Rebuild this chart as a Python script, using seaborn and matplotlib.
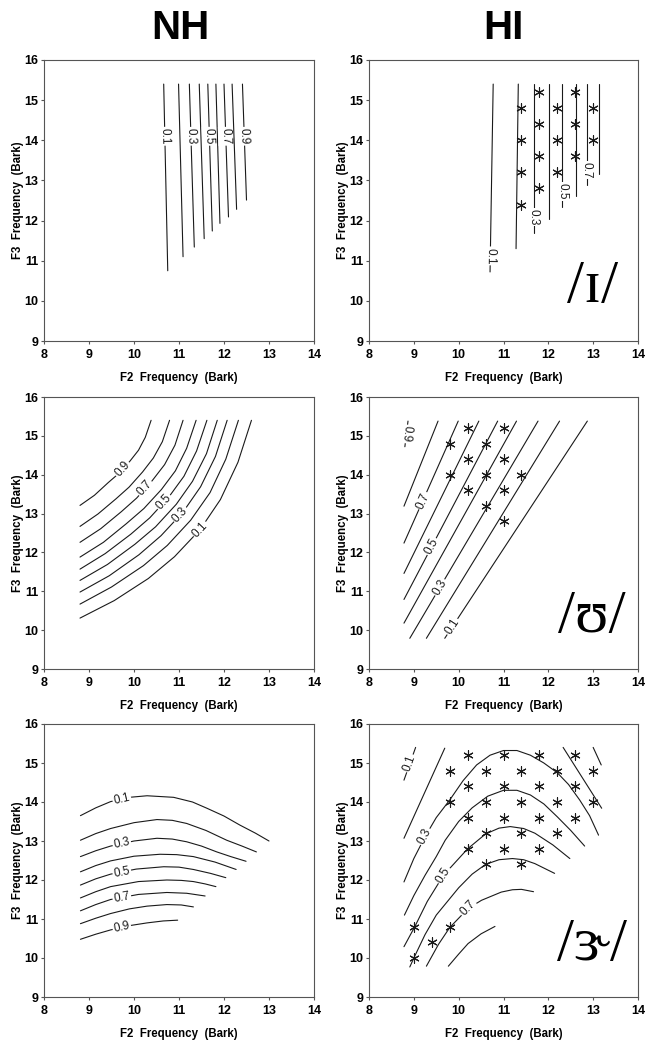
import numpy as np
import pandas as pd
import matplotlib
matplotlib.use("Agg")
import matplotlib.pyplot as plt
import seaborn as sns

# ---------------- data (F2 / F3 in Bark) ----------------
# NH /ɪ/ : iso-probability lines, top -> bottom
nh_i_levels = [0.1, 0.2, 0.3, 0.4, 0.5, 0.6, 0.7, 0.8, 0.9]
nh_i_f2 = [[10.66, 10.75], [10.99, 11.09], [11.23, 11.34], [11.45, 11.56], [11.64, 11.74],
           [11.82, 11.91], [12.00, 12.10], [12.18, 12.28], [12.41, 12.50]]
nh_i_f3 = [[15.4, 10.75], [15.4, 11.10], [15.4, 11.34], [15.4, 11.55], [15.4, 11.74],
           [15.4, 11.93], [15.4, 12.09], [15.4, 12.28], [15.4, 12.51]]
nh_i_labels = [(0.1, 10.68, 14.1), (0.3, 11.26, 14.1), (0.5, 11.67, 14.1),
               (0.7, 12.03, 14.1), (0.9, 12.44, 14.1)]

# HI /ɪ/
hi_i_levels = [0.1, 0.2, 0.3, 0.4, 0.5, 0.6, 0.7, 0.8]
hi_i_f2 = [[10.77, 10.70], [11.33, 11.28], [11.68, 11.68], [12.02, 12.02],
           [12.31, 12.31], [12.61, 12.61], [12.86, 12.86], [13.13, 13.13]]
hi_i_f3 = [[15.4, 10.72], [15.4, 11.30], [15.4, 11.68], [15.4, 12.05],
           [15.4, 12.34], [15.4, 12.61], [15.4, 12.88], [15.4, 13.17]]
hi_i_labels = [(0.1, 10.71, 11.12), (0.3, 11.68, 12.09), (0.5, 12.31, 12.72), (0.7, 12.86, 13.26)]
hi_i_star_f2 = [11.4, 11.4, 11.4, 11.4, 11.8, 11.8, 11.8, 11.8, 12.2, 12.2, 12.2,
                12.6, 12.6, 12.6, 13.0, 13.0]
hi_i_star_f3 = [14.8, 14.0, 13.2, 12.4, 15.2, 14.4, 13.6, 12.8, 14.8, 14.0, 13.2,
                15.2, 14.4, 13.6, 14.8, 14.0]

# NH /ʊ/
nh_u_levels = [0.1, 0.2, 0.3, 0.4, 0.5, 0.6, 0.7, 0.8, 0.9]
nh_u_f2 = [[8.8, 9.56, 10.32, 10.90, 11.47, 11.92, 12.31, 12.61],
           [8.8, 9.50, 10.21, 10.74, 11.26, 11.69, 12.04, 12.32],
           [8.8, 9.45, 10.11, 10.60, 11.09, 11.48, 11.81, 12.07],
           [8.8, 9.41, 10.02, 10.48, 10.94, 11.30, 11.61, 11.85],
           [8.8, 9.36, 9.93, 10.35, 10.77, 11.11, 11.39, 11.62],
           [8.8, 9.32, 9.83, 10.22, 10.61, 10.92, 11.17, 11.38],
           [8.8, 9.26, 9.72, 10.06, 10.40, 10.68, 10.91, 11.09],
           [8.8, 9.20, 9.60, 9.89, 10.19, 10.43, 10.63, 10.79],
           [8.8, 9.12, 9.43, 9.67, 9.91, 10.10, 10.25, 10.38]]
nh_u_f3 = [[10.31, 10.76, 11.33, 11.89, 12.59, 13.36, 14.32, 15.4],
           [10.67, 11.11, 11.66, 12.18, 12.83, 13.54, 14.40, 15.4],
           [10.98, 11.40, 11.94, 12.43, 13.04, 13.69, 14.47, 15.4],
           [11.28, 11.69, 12.21, 12.66, 13.24, 13.83, 14.54, 15.4],
           [11.57, 11.97, 12.47, 12.89, 13.42, 13.96, 14.61, 15.4],
           [11.88, 12.26, 12.74, 13.13, 13.62, 14.10, 14.68, 15.4],
           [12.26, 12.61, 13.05, 13.40, 13.84, 14.26, 14.76, 15.4],
           [12.67, 12.99, 13.38, 13.68, 14.07, 14.43, 14.85, 15.4],
           [13.21, 13.47, 13.80, 14.04, 14.35, 14.63, 14.96, 15.4]]
nh_u_labels = [(0.9, 9.75, 14.14), (0.7, 10.25, 13.65), (0.5, 10.67, 13.29),
               (0.3, 11.03, 12.97), (0.1, 11.47, 12.59)]

# HI /ʊ/
hi_u_levels = [0.9, 0.8, 0.7, 0.6, 0.5, 0.4, 0.3, 0.2, 0.1]
hi_u_f2 = [[8.87, 8.80], [8.78, 9.54], [8.78, 9.99], [8.78, 10.45], [8.78, 10.87],
           [8.78, 11.29], [8.91, 11.77], [9.28, 12.25], [9.69, 12.87]]
hi_u_f3 = [[15.38, 14.72], [13.19, 15.38], [12.24, 15.38], [11.46, 15.38], [10.79, 15.38],
           [10.18, 15.38], [9.79, 15.38], [9.79, 15.38], [9.79, 15.38]]
hi_u_labels = [(0.9, 8.83, 15.05), (0.7, 9.20, 13.33), (0.5, 9.40, 12.15),
               (0.3, 9.58, 11.10), (0.1, 9.86, 10.09)]
hi_u_star_f2 = [10.2, 11.0, 9.8, 10.6, 10.2, 11.0, 9.8, 10.6, 11.4, 10.2, 11.0, 10.6, 11.0]
hi_u_star_f3 = [15.2, 15.2, 14.8, 14.8, 14.4, 14.4, 14.0, 14.0, 14.0, 13.6, 13.6, 13.2, 12.8]

# NH /ɝ/
nh_r_levels = [0.1, 0.2, 0.3, 0.4, 0.5, 0.6, 0.7, 0.8, 0.9]
nh_r_f2 = [[8.81, 9.15, 9.48, 9.9, 10.29, 10.88, 11.3, 11.62, 12.0, 12.35, 12.7, 13.00],
           [8.81, 9.15, 9.48, 10.0, 10.51, 10.85, 11.17, 11.6, 12.06, 12.4, 12.72],
           [8.81, 9.15, 9.48, 10.0, 10.51, 10.85, 11.17, 11.5, 11.84, 12.15, 12.49],
           [8.81, 9.15, 9.48, 10.0, 10.58, 10.95, 11.32, 11.8, 12.27],
           [8.81, 9.15, 9.48, 10.05, 10.66, 11.0, 11.32, 11.7, 12.04],
           [8.81, 9.15, 9.48, 10.1, 10.73, 11.05, 11.32, 11.58, 11.82],
           [8.81, 9.15, 9.48, 10.1, 10.73, 11.17, 11.58],
           [8.81, 9.15, 9.48, 9.9, 10.29, 10.73, 11.05, 11.32],
           [8.81, 9.15, 9.48, 9.9, 10.29, 10.65, 10.97]]
nh_r_f3 = [[13.65, 13.85, 14.01, 14.12, 14.16, 14.12, 14.0, 13.84, 13.64, 13.41, 13.2, 13.00],
           [13.02, 13.19, 13.32, 13.47, 13.55, 13.53, 13.45, 13.27, 13.02, 12.87, 12.72],
           [12.60, 12.75, 12.87, 13.0, 13.07, 13.05, 12.98, 12.87, 12.72, 12.60, 12.48],
           [12.21, 12.37, 12.49, 12.61, 12.66, 12.65, 12.60, 12.46, 12.27],
           [11.87, 12.03, 12.15, 12.28, 12.34, 12.33, 12.27, 12.17, 12.06],
           [11.54, 11.70, 11.83, 11.96, 12.00, 11.99, 11.96, 11.90, 11.83],
           [11.21, 11.37, 11.50, 11.63, 11.68, 11.66, 11.59],
           [10.88, 11.02, 11.14, 11.26, 11.33, 11.37, 11.36, 11.31],
           [10.48, 10.61, 10.72, 10.83, 10.90, 10.95, 10.97]]
nh_r_labels = [(0.1, 9.73, 14.07), (0.3, 9.73, 12.93), (0.5, 9.73, 12.20),
               (0.7, 9.73, 11.55), (0.9, 9.73, 10.78)]

# HI /ɝ/
hi_r_levels = [0.1, 0.1, 0.2, 0.2, 0.3, 0.4, 0.5, 0.6, 0.7, 0.8]
hi_r_f2 = [[8.78, 9.04], [13.00, 13.18], [8.78, 9.69], [12.33, 13.19],
           [8.78, 9.0, 9.25, 9.5, 9.8, 10.1, 10.4, 10.7, 11.0, 11.3, 11.6, 11.9, 12.2, 12.45, 12.7, 12.92, 13.12],
           [8.79, 9.0, 9.25, 9.5, 9.7, 10.0, 10.3, 10.65, 11.0, 11.3, 11.6, 11.9, 12.2, 12.5, 12.81],
           [8.78, 9.02, 9.3, 9.66, 10.2, 10.6, 10.9, 11.15, 11.45, 11.7, 12.1, 12.48],
           [8.91, 9.0, 9.25, 9.5, 10.0, 10.3, 10.6, 10.9, 11.2, 11.45, 11.7, 12.14],
           [9.28, 9.55, 9.8, 10.21, 10.51, 10.95, 11.2, 11.4, 11.67],
           [9.77, 10.0, 10.21, 10.5, 10.81]]
hi_r_f3 = [[14.56, 15.4], [15.4, 14.95], [13.07, 15.38], [15.4, 13.84],
           [11.95, 12.55, 13.11, 13.6, 14.05, 14.55, 14.95, 15.2, 15.32, 15.32, 15.2, 15.0, 14.75, 14.45, 14.05, 13.65, 13.15],
           [11.10, 11.6, 12.12, 12.6, 13.02, 13.5, 13.85, 14.15, 14.3, 14.3, 14.18, 13.95, 13.62, 13.27, 12.87],
           [10.29, 10.8, 11.45, 12.12, 12.8, 13.18, 13.33, 13.37, 13.32, 13.2, 12.9, 12.55],
           [9.77, 10.0, 10.6, 11.1, 11.8, 12.15, 12.4, 12.52, 12.55, 12.52, 12.42, 12.17],
           [9.79, 10.35, 10.78, 11.27, 11.48, 11.69, 11.75, 11.76, 11.70],
           [9.79, 10.1, 10.37, 10.62, 10.81]]
hi_r_labels = [(0.1, 8.91, 14.99), (0.3, 9.25, 13.11), (0.5, 9.66, 12.12), (0.7, 10.21, 11.27)]
hi_r_star_f2 = [10.2, 11.0, 11.8, 12.6,
                9.8, 10.6, 11.4, 12.2, 13.0,
                10.2, 11.0, 11.8, 12.6,
                9.8, 10.6, 11.4, 12.2, 13.0,
                10.2, 11.0, 11.8, 12.6,
                10.6, 11.4, 12.2,
                10.2, 11.0, 11.8,
                10.6, 11.4,
                9.0, 9.8,
                9.4,
                9.0]
hi_r_star_f3 = [15.2, 15.2, 15.2, 15.2,
                14.8, 14.8, 14.8, 14.8, 14.8,
                14.4, 14.4, 14.4, 14.4,
                14.0, 14.0, 14.0, 14.0, 14.0,
                13.6, 13.6, 13.6, 13.6,
                13.2, 13.2, 13.2,
                12.8, 12.8, 12.8,
                12.4, 12.4,
                10.8, 10.8,
                10.4,
                10.0]

# ---------------- style ----------------
sns.set_style("ticks")
plt.rcParams["font.family"] = ["Liberation Sans", "DejaVu Sans"]
plt.rcParams["text.color"] = "black"
plt.rcParams["axes.labelcolor"] = "black"
INK = "#1a1a1a"
FRAME = "#555555"

W, H = 659, 1050
fig = plt.figure(figsize=(W / 100, H / 100), dpi=100)


def px_axes(l, t, r, b):
    return fig.add_axes([l / W, 1 - b / H, (r - l) / W, (b - t) / H])


def label_angle(ax, segs, x0, y0):
    # direction of the nearest piece of the line, in screen space
    p = ax.transData.transform((x0, y0))
    best = None
    for xs, ys in segs:
        pts = ax.transData.transform(np.column_stack([xs, ys]))
        for a, b in zip(pts[:-1], pts[1:]):
            ab = b - a
            t = np.clip(np.dot(p - a, ab) / np.dot(ab, ab), 0, 1)
            d = np.linalg.norm(a + t * ab - p)
            if best is None or d < best[0]:
                best = (d, ab)
    ang = np.degrees(np.arctan2(best[1][1], best[1][0]))
    if ang > 100:
        ang -= 180
    if ang < -100:
        ang += 180
    return ang


def draw_panel(ax, levels, f2s, f3s, labels, star_f2=None, star_f3=None, vowel=None):
    ax.set_xlim(8, 14)
    ax.set_ylim(9, 16)
    rows = []
    for i, (lev, xs, ys) in enumerate(zip(levels, f2s, f3s)):
        for x, y in zip(xs, ys):
            rows.append({"seg": i, "level": lev, "F2": x, "F3": y})
    df = pd.DataFrame(rows)
    sns.lineplot(data=df, x="F2", y="F3", units="seg", estimator=None, sort=False,
                 color=INK, linewidth=0.8, ax=ax, legend=False)
    if star_f2 is not None:
        sns.scatterplot(x=star_f2, y=star_f3, marker=(6, 2, 0), s=46, color=INK,
                        linewidth=0.8, ax=ax, zorder=4, legend=False)
    for lev, x0, y0 in labels:
        segs = [(xs, ys) for l, xs, ys in zip(levels, f2s, f3s) if l == lev]
        ang = label_angle(ax, segs, x0, y0)
        ax.text(x0, y0, f"{lev:.1f}", rotation=ang, rotation_mode="anchor",
                ha="center", va="center", fontsize=8.5, color=INK, zorder=5,
                bbox=dict(boxstyle="square,pad=0.1", fc="white", ec="none"))
    if vowel is not None:
        ax.text(0.83, 0.19, vowel, transform=ax.transAxes, ha="center", va="center",
                fontsize=44, color="black", family=["Liberation Serif", "DejaVu Serif"])

    ax.set_xticks(range(8, 15))
    ax.set_yticks(range(9, 17))
    ax.tick_params(axis="both", labelsize=9, length=2.5, width=0.8, color=FRAME,
                   labelcolor="black")
    ax.tick_params(axis="x", pad=3)
    ax.tick_params(axis="y", pad=1.5)
    for t in ax.get_xticklabels() + ax.get_yticklabels():
        t.set_fontweight("bold")
    ax.set_xlabel("F2  Frequency  (Bark)", fontsize=8.3, fontweight="bold", labelpad=8)
    ax.set_ylabel("F3  Frequency  (Bark)", fontsize=8.3, fontweight="bold", labelpad=0.5)
    for s in ax.spines.values():
        s.set_color(FRAME)
        s.set_linewidth(0.8)


ax1 = px_axes(44, 60, 314, 341)
ax2 = px_axes(369, 60, 638, 341)
ax3 = px_axes(44, 397, 314, 669)
ax4 = px_axes(369, 397, 638, 669)
ax5 = px_axes(44, 724, 314, 997)
ax6 = px_axes(369, 724, 638, 997)

draw_panel(ax1, nh_i_levels, nh_i_f2, nh_i_f3, nh_i_labels)
draw_panel(ax2, hi_i_levels, hi_i_f2, hi_i_f3, hi_i_labels, hi_i_star_f2, hi_i_star_f3, "/ɪ/")
draw_panel(ax3, nh_u_levels, nh_u_f2, nh_u_f3, nh_u_labels)
draw_panel(ax4, hi_u_levels, hi_u_f2, hi_u_f3, hi_u_labels, hi_u_star_f2, hi_u_star_f3, "/ʊ/")
draw_panel(ax5, nh_r_levels, nh_r_f2, nh_r_f3, nh_r_labels)
draw_panel(ax6, hi_r_levels, hi_r_f2, hi_r_f3, hi_r_labels, hi_r_star_f2, hi_r_star_f3, "/ɝ/")

fig.text(180 / W, 1 - 28 / H, "NH", fontsize=29, fontweight="bold", ha="center", va="center")
fig.text(503 / W, 1 - 28 / H, "HI", fontsize=29, fontweight="bold", ha="center", va="center")

fig.savefig("out.png", dpi=100)
